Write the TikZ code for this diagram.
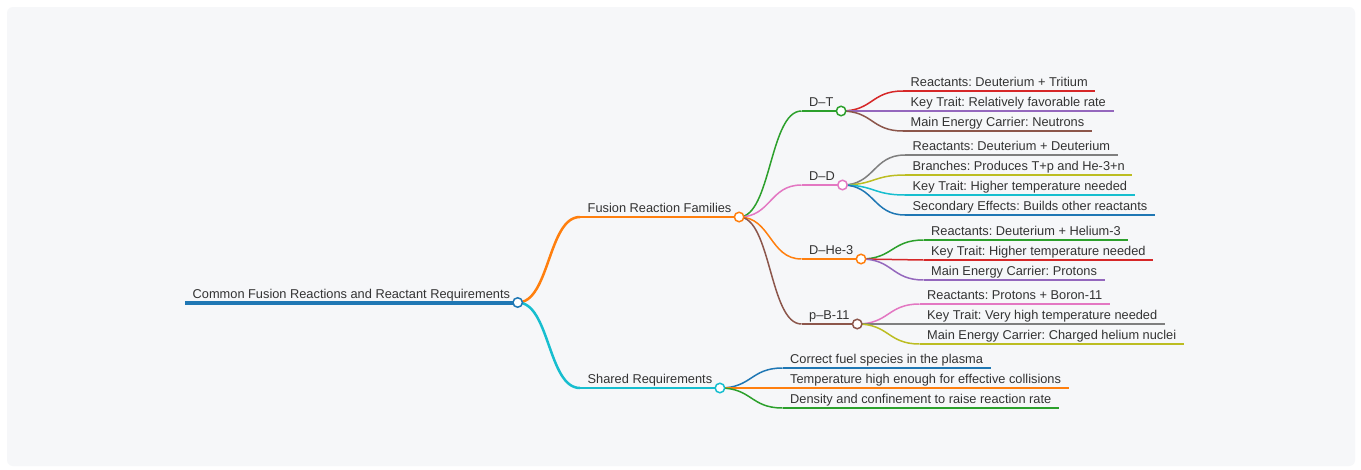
\documentclass[tikz,border=0pt]{standalone}
\usepackage{fontspec}
\setmainfont{Liberation Sans}
\frenchspacing
\definecolor{panel}{HTML}{F6F7F9}
\definecolor{txtgray}{HTML}{333333}
\definecolor{cblue}{HTML}{1F77B4}
\definecolor{corange}{HTML}{FF7F0E}
\definecolor{cgreen}{HTML}{2CA02C}
\definecolor{cred}{HTML}{D62728}
\definecolor{cpurple}{HTML}{9467BD}
\definecolor{cbrown}{HTML}{8C564B}
\definecolor{cpink}{HTML}{E377C2}
\definecolor{cgray}{HTML}{7F7F7F}
\definecolor{colive}{HTML}{BCBD22}
\definecolor{ccyan}{HTML}{17BECF}
\begin{document}
\begin{tikzpicture}[x=1pt, y=-1pt]
	\tikzset{
	    topic/.style={anchor=south west, inner xsep=7.5pt, inner ysep=2pt, text depth=2pt,
	        text=txtgray, font=\fontsize{12.8}{15}\selectfont\frenchspacing},
	    link/.style={line width=1.5pt},
	    dot/.style={circle, draw=#1, fill=white, line width=1.5pt, minimum size=9.5pt, inner sep=0pt},
	}
	\useasboundingbox (0,0) rectangle (1361,469);
	\fill[white] (0,0) rectangle (1361,469);
	\fill[panel, rounded corners=6pt] (7,7) rectangle (1355,466);

	\node[topic] (root) at (185,302.5) {Common Fusion Reactions and Reactant Requirements};
	\node[topic] (frf) at (580,217) {Fusion Reaction Families};
	\node[topic] (shr) at (580,388) {Shared Requirements};
	\draw[cblue, line width=4pt] (root.south west) -- (root.south east);
	\foreach \up/\nm/\col in {root/frf/corange, root/shr/ccyan} {
	    \draw[\col, line width=2.5pt] (\nm.south west) -- (\nm.south east);
	    \draw[\col, line width=2.5pt] (\up.south east) .. controls +(32,0) and +(-32,0) .. (\nm.south west);
	    }

	\foreach \nm/\yy/\col/\txt in {dt/111/cgreen/D–T, dd/185/cpink/D–D, dhe/259/corange/D–He-3, pb/324/cbrown/p–B-11} {
	    \node[topic] (\nm) at (801.5,\yy) {\txt};
	    \draw[\col, line width=2pt] (\nm.south west) -- (\nm.south east);
	    \draw[\col, link] (frf.south east) .. controls +(32,0) and +(-32,0) .. (\nm.south west);
	    }

	\foreach \up/\nm/\xx/\yy/\col/\txt in {
	    dt/dt1/903/91/cred/Reactants: Deuterium + Tritium,
	    dt/dt2/903/111/cpurple/Key Trait: Relatively favorable rate,
	    dt/dt3/903/131/cbrown/Main Energy Carrier: Neutrons,
	    dd/dd1/905/155/cgray/Reactants: Deuterium + Deuterium,
	    dd/dd2/905/175/colive/Branches: Produces T+p and He-3+n,
	    dd/dd3/905/195/ccyan/Key Trait: Higher temperature needed,
	    dd/dd4/905/215/cblue/Secondary Effects: Builds other reactants,
	    dhe/dhe1/923.5/240/cgreen/Reactants: Deuterium + Helium-3,
	    dhe/dhe2/923.5/260/cred/Key Trait: Higher temperature needed,
	    dhe/dhe3/923.5/280/cpurple/Main Energy Carrier: Protons,
	    pb/pb1/919.5/304/cpink/Reactants: Protons + Boron-11,
	    pb/pb2/919.5/324/cgray/Key Trait: Very high temperature needed,
	    pb/pb3/919.5/344/colive/Main Energy Carrier: Charged helium nuclei,
	    shr/shr1/782.5/368/cblue/Correct fuel species in the plasma,
	    shr/shr2/782.5/388/corange/Temperature high enough for effective collisions,
	    shr/shr3/782.5/408/cgreen/Density and confinement to raise reaction rate} {
	    \node[topic] (\nm) at (\xx,\yy) {\txt};
	    \draw[\col, line width=2pt] (\nm.south west) -- (\nm.south east);
	    \draw[\col, link] (\up.south east) .. controls +(32,0) and +(-32,0) .. (\nm.south west);
	    }

	\foreach \nd/\col in {root/cblue, frf/corange, shr/ccyan, dt/cgreen, dd/cpink, dhe/corange, pb/cbrown} {
	    \node[dot=\col] (\nd-dot) at (\nd.south east) {};
	    }
\end{tikzpicture}
\end{document}
